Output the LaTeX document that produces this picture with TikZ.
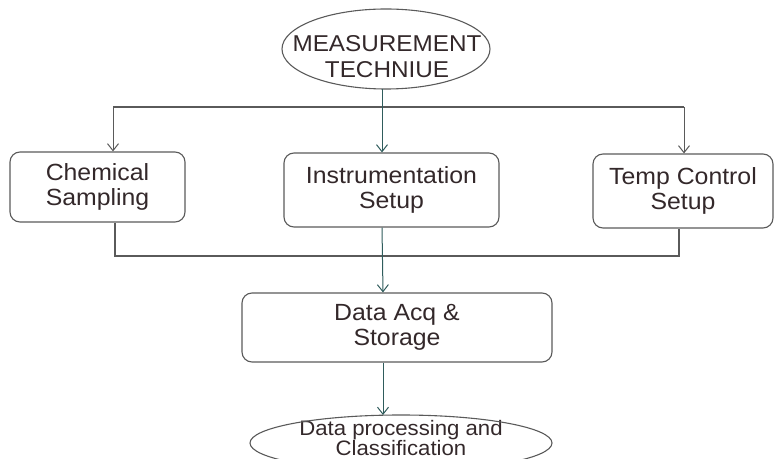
\documentclass[tikz,border=0pt]{standalone}
\usepackage{fontspec}
\setmainfont[FakeStretch=1.06]{Liberation Sans}
\usetikzlibrary{shapes.geometric,arrows.meta}
\definecolor{txt}{HTML}{33282A}
\definecolor{edge}{HTML}{5A5A5A}
\definecolor{teal}{HTML}{2F5C5C}
\tikzset{
  x=1bp,y=-1bp,
  procbox/.style={draw=edge,line width=1.1bp,rounded corners=10bp,align=center,text=txt,
    font=\fontsize{23.5}{25}\selectfont,inner sep=0pt},
  label text/.style={align=center,text=txt,inner sep=0pt},
  oval/.style={draw=edge,line width=1.1bp},
  link/.style={draw=edge,line width=1.3bp},
  arr/.style={line width=1bp,-{Straight Barb[length=7bp,width=11bp]}},
}
\begin{document}
\begin{tikzpicture}
\useasboundingbox (0,0) rectangle (777,459);
% top ellipse
\node[label text,font=\fontsize{23}{25.5}\selectfont] (top) at (387,56.5) {MEASUREMENT\\TECHNIUE};
\draw[oval] (386,49) ellipse [x radius=104bp, y radius=40bp];
\coordinate (topb) at (382,89);
% boxes
\node[procbox,minimum width=175bp,minimum height=70bp] (chem) at (97.5,187) {Chemical\\Sampling};
\node[procbox,minimum width=215bp,minimum height=74bp] (inst) at (391.5,190) {Instrumentation\\Setup};
\node[procbox,minimum width=180bp,minimum height=74bp] (temp) at (683,191) {Temp Control\\Setup};
\node[procbox,minimum width=310bp,minimum height=69bp] (daq) at (397,327.5) {Data Acq \&\\Storage};
% bottom ellipse
\node[label text,font=\fontsize{21}{21}\selectfont] (proc) at (401,438) {Data processing and\\Classification};
\draw[oval] (401,443) ellipse [x radius=151bp, y radius=28bp];
\coordinate (proct) at (383,415);
% connectors
\coordinate (tl) at (113,107);
\coordinate (tr) at (684,107);
\coordinate (bl) at (115,256);
\coordinate (br) at (679,256);
\draw[link] (tl) -- (tr);
\draw[link,arr] (tl) -- (tl |- chem.north);
\draw[link,arr] (tr) -- (tr |- temp.north);
\draw[teal,arr] (topb) -- (topb |- inst.north);
\draw[link] (bl |- chem.south) -- (bl) -- (br) -- (br |- temp.south);
\draw[teal,arr] (topb |- inst.south) -- (383,0 |- daq.north);
\draw[teal,arr] (proct |- daq.south) -- (proct);
\end{tikzpicture}
\end{document}
